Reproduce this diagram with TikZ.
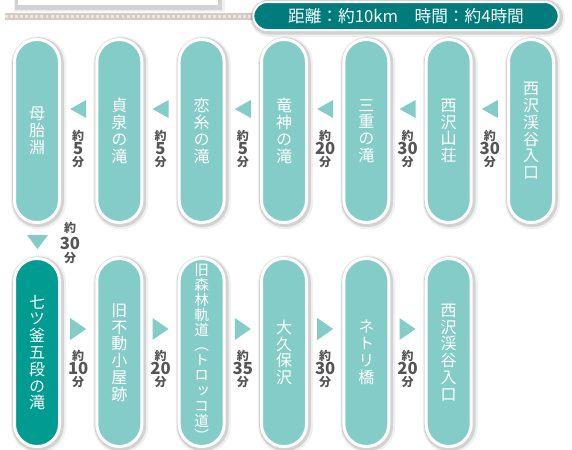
\documentclass[tikz,border=0pt]{standalone}
\usepackage{fontspec}
\newfontfamily\jp{Noto Sans CJK JP}
\newfontfamily\jpv{Noto Sans CJK JP}[RawFeature=+vert]
\definecolor{lt}{RGB}{132,204,199}
\definecolor{dk}{RGB}{0,156,146}
\definecolor{hd}{RGB}{0,124,124}
\definecolor{lbl}{RGB}{85,85,85}
\definecolor{barc}{RGB}{214,202,198}
\tikzset{
  shadowed/.style={
    preaction={draw=black, draw opacity=0.06, line width=7.5pt, transform canvas={shift={(1.6,1.8)}}},
    preaction={draw=black, draw opacity=0.12, line width=5pt, transform canvas={shift={(1,1.2)}}}},
  pill/.style={shadowed, rectangle, rounded corners=16.8pt, minimum width=33.75pt,
    draw=white, line width=2.25pt, fill=lt, text=white, inner sep=0pt, align=center,
    font=\jpv\fontsize{12}{12.6}\selectfont},
  pillA/.style={pill, minimum height=137.25pt},
  pillB/.style={pill, minimum height=141pt},
  lblsm/.style={inner sep=0pt, text=lbl, font=\jp\bfseries\fontsize{9}{9}\selectfont},
  lblnum/.style={inner sep=0pt, text=lbl, font=\jp\bfseries\fontsize{12.5}{12.5}\selectfont},
  tri/.style={fill=lt},
}
\newcommand{\mylbl}[4]{%
  \node[lblsm] (#1a) at (#2,#3+26.5) {約};
  \node[lblnum] (#1b) at (#2,#3+39.5) {#4};
  \node[lblsm] (#1c) at (#2,#3+53.5) {分};}
\newcommand{\leftarr}[4]{%
  \coordinate (#1) at (#2,#3);
  \fill[tri, shift={(#1)}] (-8,0) -- (8,-9) -- (8,9) -- cycle;
  \mylbl{#1l}{#2}{#3}{#4}}
\newcommand{\rightarr}[4]{%
  \coordinate (#1) at (#2,#3);
  \fill[tri, shift={(#1)}] (8,0) -- (-8,-11) -- (-8,11) -- cycle;
  \mylbl{#1l}{#2}{#3}{#4}}
\begin{document}
\begin{tikzpicture}[x=0.75pt,y=-0.75pt]
\useasboundingbox (0,0) rectangle (572,450);
\fill[white] (0,0) rectangle (572,450);
% top box and bar
\draw[shadowed, draw=black!18, fill=white, line width=0.6pt] (17,-10) rectangle (218,5);
\fill[barc] (5,13) rectangle (256,20);
\draw[white, opacity=0.55, line width=2.5pt, dash pattern=on 2.2pt off 1.6pt] (5,16.5) -- (256,16.5);
% header
\node[shadowed, rectangle, rounded corners=10.5pt, minimum width=229pt, minimum height=21pt,
  draw=white, line width=1.5pt, fill=hd, text=white, inner sep=0pt,
  font=\jp\fontsize{12.5}{12.5}\selectfont] (hdr) at (406,16) {距離：約10km　時間：約4時間};
% row 1
\node[pillA] (p1) at (37,131) {母\\胎\\淵};
\node[pillA] (p2) at (119.33,131) {貞\\泉\\の\\滝};
\node[pillA] (p3) at (201.67,131) {恋\\糸\\の\\滝};
\node[pillA] (p4) at (284,131) {竜\\神\\の\\滝};
\node[pillA] (p5) at (366.33,131) {三\\重\\の\\滝};
\node[pillA] (p6) at (448.67,131) {西\\沢\\山\\荘};
\node[pillA] (p7) at (531,131) {西\\沢\\渓\\谷\\入\\口};
\leftarr{a1}{78.17}{109}{5}
\leftarr{a2}{160.5}{109}{5}
\leftarr{a3}{242.83}{109}{5}
\leftarr{a4}{325.17}{109}{20}
\leftarr{a5}{407.5}{109}{30}
\leftarr{a6}{489.83}{109}{30}
% down arrow
\coordinate (d1) at (37.5,242);
\fill[tri, shift={(d1)}] (0,7) -- (-10.5,-7) -- (10.5,-7) -- cycle;
\node[lblsm] (d1a) at (70,228) {約};
\node[lblnum] (d1b) at (70,243) {30};
\node[lblsm] (d1c) at (70,258) {分};
% row 2
\node[pillB, fill=dk] (q1) at (37,352.5) {七\\ツ\\釜\\五\\段\\の\\滝};
\node[pillB] (q2) at (119.33,352.5) {旧\\不\\動\\小\\屋\\跡};
\node[pillB, font=\jpv\fontsize{11}{11.3}\selectfont] (q3) at (201.67,352.5) {旧\\森\\林\\軌\\道\\（\\ト\\ロ\\ッ\\コ\\道\\）};
\node[pillB] (q4) at (284,352.5) {大\\久\\保\\沢};
\node[pillB] (q5) at (366.33,352.5) {ネ\\ト\\リ\\橋};
\node[pillB] (q6) at (448.67,352.5) {西\\沢\\渓\\谷\\入\\口};
\rightarr{b1}{78.17}{329}{10}
\rightarr{b2}{160.5}{329}{20}
\rightarr{b3}{242.83}{329}{35}
\rightarr{b4}{325.17}{329}{30}
\rightarr{b5}{407.5}{329}{20}
\end{tikzpicture}
\end{document}
